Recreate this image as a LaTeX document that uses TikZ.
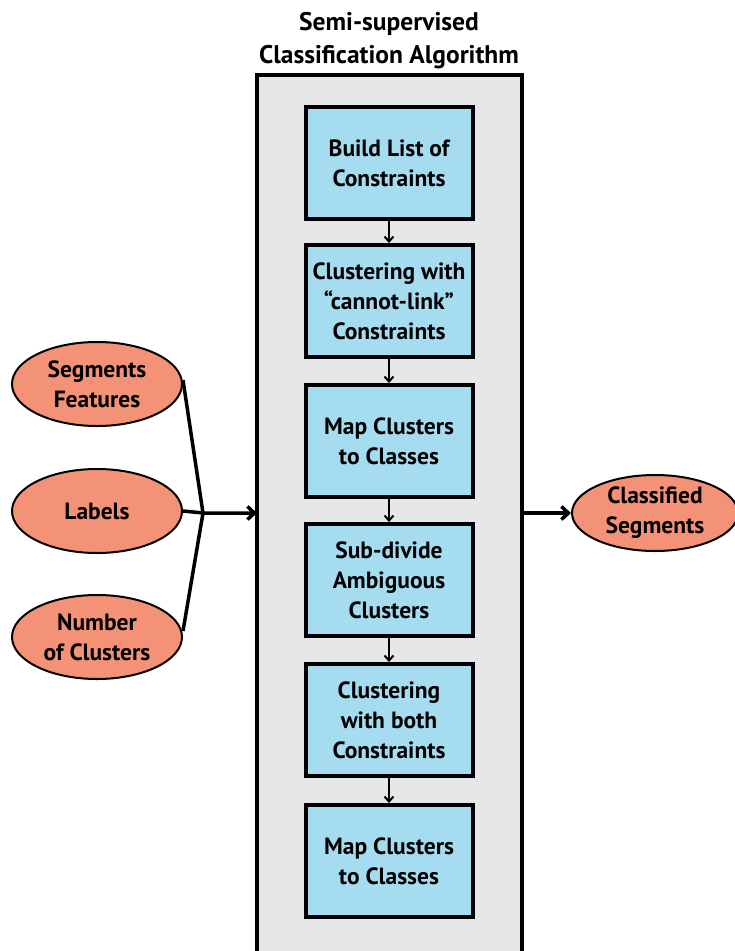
\documentclass[tikz,border=0pt]{standalone}
\usepackage{fontspec}
\setmainfont{PT Sans}
\usetikzlibrary{arrows.meta,shapes.geometric}
\definecolor{boxblue}{RGB}{166,220,240}
\definecolor{ellorange}{RGB}{243,146,118}
\definecolor{outergray}{RGB}{230,231,233}
\tikzset{
  stepbox/.style={draw=black,line width=4pt,fill=boxblue,minimum width=167pt,minimum height=112pt,align=center,font=\fontsize{23.5}{30}\selectfont\bfseries,inner sep=0pt},
  ell/.style={ellipse,draw=black,line width=2pt,fill=ellorange,minimum width=170pt,minimum height=84pt,align=center,font=\fontsize{23.5}{30}\selectfont\bfseries,inner sep=0pt},
  small arrow/.style={line width=2pt,-{Straight Barb[length=5pt,width=9pt,line width=2pt]}},
  big arrow/.style={line width=3.5pt,-{Straight Barb[length=7pt,width=13pt,line width=3.5pt]}},
  joinline/.style={line width=3.5pt}
}
\begin{document}
\begin{tikzpicture}[x=1pt,y=-1pt]
\useasboundingbox (0,0) rectangle (735,951);
% outer container
\fill[outergray] (257,75) rectangle (522,953);
\draw[line width=4pt] (257,953) -- (257,75) -- (522,75) -- (522,953);
\node[font=\fontsize{25.5}{33}\selectfont\bfseries,align=center] (title) at (389,41) {Semi-supervised\\Classification Algorithm};
\coordinate (boxleft) at (257,513);
\coordinate (boxright) at (522,513);
% steps
\node[stepbox] (s1) at (389,163) {Build List of\\Constraints};
\node[stepbox] (s2) at (389,301) {Clustering with\\“cannot-link”\\Constraints};
\node[stepbox] (s3) at (389,441) {Map Clusters\\to Classes};
\node[stepbox] (s4) at (389,580) {Sub-divide\\Ambiguous\\Clusters};
\node[stepbox] (s5) at (389,720) {Clustering\\with both\\Constraints};
\node[stepbox] (s6) at (389,861) {Map Clusters\\to Classes};
\foreach \a/\b in {s1/s2,s2/s3,s3/s4,s4/s5,s5/s6}
  \draw[small arrow] (\a.south) -- (\b.north);
% inputs
\node[ell] (seg) at (97,384) {Segments\\Features};
\node[ell] (lab) at (97,511) {Labels};
\node[ell] (num) at (97,637) {Number\\of Clusters};
\node[ell,minimum width=166pt,minimum height=76pt] (out) at (655,513) {Classified\\Segments};
\coordinate (join) at (203,513);
\draw[joinline] (seg.east) ++(0,-4) -- (join);
\draw[joinline] (num.east) ++(0,-6) -- (join);
\draw[big arrow] (lab.east) -- (join) -- (boxleft);
\draw[big arrow] (boxright) -- (out.west);
\end{tikzpicture}
\end{document}
